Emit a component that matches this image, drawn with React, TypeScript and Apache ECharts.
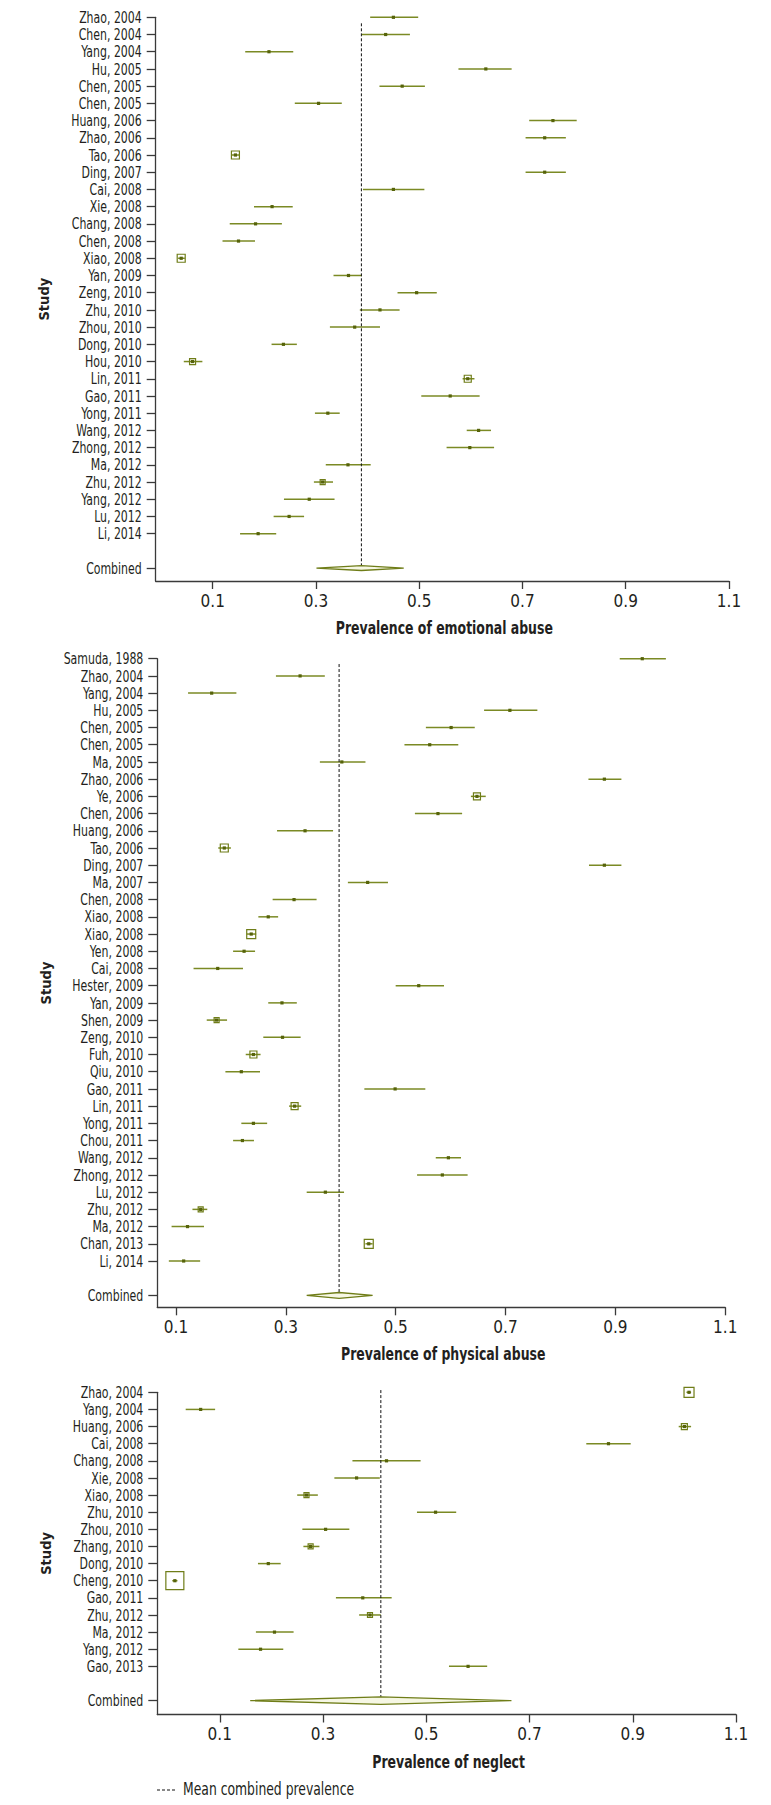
import React, { useEffect, useRef } from "react";
import * as echarts from "echarts";

// ---------------- Emotional abuse ----------------
const emoStudies = ["Zhao, 2004","Chen, 2004","Yang, 2004","Hu, 2005","Chen, 2005","Chen, 2005","Huang, 2006","Zhao, 2006","Tao, 2006","Ding, 2007","Cai, 2008","Xie, 2008","Chang, 2008","Chen, 2008","Xiao, 2008","Yan, 2009","Zeng, 2010","Zhu, 2010","Zhou, 2010","Dong, 2010","Hou, 2010","Lin, 2011","Gao, 2011","Yong, 2011","Wang, 2012","Zhong, 2012","Ma, 2012","Zhu, 2012","Yang, 2012","Lu, 2012","Li, 2014"];
const emoEst = [0.450,0.435,0.209,0.629,0.467,0.305,0.759,0.743,0.144,0.743,0.450,0.215,0.183,0.150,0.039,0.363,0.495,0.424,0.375,0.237,0.061,0.594,0.560,0.323,0.615,0.598,0.362,0.313,0.287,0.248,0.188];
const emoLo = [0.405,0.389,0.163,0.576,0.423,0.259,0.713,0.706,0.136,0.706,0.391,0.180,0.133,0.119,0.033,0.334,0.458,0.385,0.327,0.214,0.044,0.584,0.504,0.298,0.592,0.553,0.319,0.296,0.238,0.218,0.153];
const emoHi = [0.498,0.482,0.256,0.679,0.511,0.350,0.805,0.784,0.152,0.784,0.510,0.255,0.234,0.182,0.046,0.389,0.534,0.462,0.424,0.263,0.080,0.607,0.617,0.346,0.639,0.645,0.406,0.333,0.336,0.277,0.223];
const emoBox = [0,0,0,0,0,0,0,0,8,0,0,0,0,0,8,0,0,0,0,0,6,7,0,0,0,0,0,5,0,0,0];
const emoCombined = [0.388, 0.301, 0.470]; // estimate, lower, upper

// ---------------- Physical abuse ----------------
const phyStudies = ["Samuda, 1988","Zhao, 2004","Yang, 2004","Hu, 2005","Chen, 2005","Chen, 2005","Ma, 2005","Zhao, 2006","Ye, 2006","Chen, 2006","Huang, 2006","Tao, 2006","Ding, 2007","Ma, 2007","Chen, 2008","Xiao, 2008","Xiao, 2008","Yen, 2008","Cai, 2008","Hester, 2009","Yan, 2009","Shen, 2009","Zeng, 2010","Fuh, 2010","Qiu, 2010","Gao, 2011","Lin, 2011","Yong, 2011","Chou, 2011","Wang, 2012","Zhong, 2012","Lu, 2012","Zhu, 2012","Ma, 2012","Chan, 2013","Li, 2014"];
const phyEst = [0.949,0.326,0.165,0.708,0.601,0.562,0.402,0.880,0.648,0.577,0.335,0.188,0.880,0.449,0.315,0.268,0.237,0.224,0.176,0.542,0.293,0.174,0.294,0.241,0.219,0.499,0.316,0.241,0.221,0.596,0.585,0.372,0.145,0.121,0.451,0.114];
const phyLo = [0.908,0.282,0.122,0.661,0.555,0.516,0.362,0.851,0.637,0.535,0.284,0.177,0.852,0.413,0.276,0.250,0.229,0.204,0.132,0.500,0.268,0.156,0.259,0.227,0.190,0.443,0.306,0.219,0.204,0.573,0.539,0.338,0.130,0.092,0.445,0.087];
const phyHi = [0.992,0.371,0.210,0.758,0.644,0.614,0.445,0.911,0.664,0.621,0.386,0.200,0.911,0.486,0.356,0.286,0.246,0.244,0.222,0.588,0.320,0.193,0.327,0.254,0.253,0.554,0.328,0.266,0.242,0.619,0.631,0.406,0.157,0.151,0.458,0.144];
const phyBox = [0,0,0,0,0,0,0,0,7,0,0,8,0,0,0,0,9,0,0,0,0,5,0,7,0,0,7,0,0,0,0,0,5,0,9,0];
const phyCombined = [0.397, 0.338, 0.458];

// ---------------- Neglect ----------------
const negStudies = ["Zhao, 2004","Yang, 2004","Huang, 2006","Cai, 2008","Chang, 2008","Xie, 2008","Xiao, 2008","Zhu, 2010","Zhou, 2010","Zhang, 2010","Dong, 2010","Cheng, 2010","Gao, 2011","Zhu, 2012","Ma, 2012","Yang, 2012","Gao, 2013"];
const negEst = [1.009,0.063,1.000,0.853,0.423,0.365,0.268,0.518,0.305,0.276,0.194,0.013,0.377,0.391,0.206,0.179,0.581];
const negLo = [1.004,0.034,0.989,0.810,0.357,0.322,0.250,0.482,0.260,0.262,0.174,0.008,0.325,0.370,0.170,0.136,0.544];
const negHi = [1.013,0.091,1.013,0.896,0.489,0.410,0.290,0.558,0.351,0.293,0.218,0.018,0.433,0.412,0.243,0.223,0.618];
const negBox = [10,0,6,0,0,0,5,0,0,5,0,18,0,5,0,0,0];
const negCombined = [0.412, 0.159, 0.665];

const xTicks = [0.1, 0.3, 0.5, 0.7, 0.9, 1.1];
const combinedLabel = "Combined";
const yTitle = "Study";
const legendLabel = "Mean combined prevalence";

const FONT = "'DejaVu Sans Condensed', 'DejaVu Sans', sans-serif";
const TEXT = "#231f20";
const AXIS = "#3a3a3a";
const CI = "#7b8a24";
const PT = "#56630a";
const BOX = "#6f7d18";
const LABEL_SCALE = 0.76;

const panels = [
  { studies: emoStudies, est: emoEst, lo: emoLo, hi: emoHi, box: emoBox, comb: emoCombined,
    title: "Prevalence of emotional abuse", left: 155.7, top: 17.3, width: 573.3, height: 563.7,
    xMin: -0.0104, yMax: 32.75, dashStart: 0.35, half: 2.4 },
  { studies: phyStudies, est: phyEst, lo: phyLo, hi: phyHi, box: phyBox, comb: phyCombined,
    title: "Prevalence of physical abuse", left: 157.3, top: 658.7, width: 567.9, height: 648.6,
    xMin: 0.066, yMax: 37.69, dashStart: 0.31, half: 2.9 },
  { studies: negStudies, est: negEst, lo: negLo, hi: negHi, box: negBox, comb: negCombined,
    title: "Prevalence of neglect", left: 157.3, top: 1392.3, width: 578.7, height: 322.2,
    xMin: -0.021, yMax: 18.81, dashStart: -0.13, half: 3.7 },
];

function labelText(text: string, x: number, y: number) {
  return {
    type: "text", x, y, scaleX: LABEL_SCALE, scaleY: 1,
    style: { text, font: `16px ${FONT}`, fill: TEXT, align: "right", verticalAlign: "middle" },
  };
}

function buildOption() {
  const grid: any[] = [];
  const xAxis: any[] = [];
  const yAxis: any[] = [];
  const series: any[] = [];
  const graphic: any[] = [];

  panels.forEach((p, i) => {
    const n = p.studies.length;
    const combinedRow = n + 1;
    const rows = p.studies.map((_, k) => k).concat([combinedRow]);

    grid.push({ left: p.left, top: p.top, width: p.width, height: p.height, containLabel: false, outerBoundsMode: "none" });

    xAxis.push({
      gridIndex: i, type: "value", min: p.xMin, max: 1.1,
      axisLine: { show: true, onZero: false, lineStyle: { color: AXIS, width: 1.3 } },
      axisTick: { show: true, customValues: xTicks, length: 8, lineStyle: { color: AXIS, width: 1.3 } },
      axisLabel: { customValues: xTicks, formatter: (v: number) => v.toFixed(1), fontFamily: FONT, fontSize: 17, color: TEXT, margin: 11 },
      splitLine: { show: false },
    });

    yAxis.push({
      gridIndex: i, type: "value", inverse: true, min: 0, max: p.yMax,
      axisLine: { show: true, onZero: false, lineStyle: { color: AXIS, width: 1.3 } },
      axisTick: { show: true, customValues: rows, length: 9, lineStyle: { color: AXIS, width: 1.3 } },
      axisLabel: { show: false },
      splitLine: { show: false },
      name: yTitle, nameLocation: "middle", nameGap: 104, nameRotate: 90,
      nameTextStyle: { fontFamily: FONT, fontWeight: "bold", fontSize: 14.5, color: TEXT },
    });

    graphic.push({
      type: "text", x: p.left + p.width / 2 + 2, y: p.top + p.height + 47, scaleX: 0.77,
      style: { text: p.title, font: `bold 18px ${FONT}`, fill: TEXT, align: "center", verticalAlign: "middle" },
    });

    const data = p.studies.map((_, k) => [p.est[k], p.lo[k], p.hi[k], k, p.box[k]]);
    const names = p.studies;

    series.push({
      type: "custom", xAxisIndex: i, yAxisIndex: i, silent: true, clip: false,
      encode: { x: [0, 1, 2], y: 3 },
      data,
      renderItem: (params: any, api: any) => {
        const est = api.value(0), lo = api.value(1), hi = api.value(2), row = api.value(3), box = api.value(4);
        const pE = api.coord([est, row]);
        const pL = api.coord([lo, row]);
        const pH = api.coord([hi, row]);
        const axisX = params.coordSys.x;
        const children: any[] = [
          labelText(names[params.dataIndex], axisX - 14, pE[1]),
          { type: "line", shape: { x1: pL[0], y1: pL[1], x2: pH[0], y2: pH[1] }, style: { stroke: CI, lineWidth: 1.5 } },
        ];
        if (box > 0) {
          children.push({ type: "rect", shape: { x: pE[0] - box / 2, y: pE[1] - box / 2, width: box, height: box },
            style: { stroke: BOX, fill: "none", lineWidth: 1.2 } });
        }
        children.push({ type: "rect", shape: { x: pE[0] - 1.6, y: pE[1] - 1.6, width: 3.2, height: 3.2 }, style: { fill: PT } });
        return { type: "group", children };
      },
    });

    const half = p.half;
    const dashStart = p.dashStart;
    series.push({
      type: "custom", xAxisIndex: i, yAxisIndex: i, silent: true, clip: false,
      encode: { x: [0, 1, 2], y: 3 },
      data: [[p.comb[0], p.comb[1], p.comb[2], combinedRow]],
      renderItem: (params: any, api: any) => {
        const est = api.value(0), lo = api.value(1), hi = api.value(2), row = api.value(3);
        const pE = api.coord([est, row]);
        const pL = api.coord([lo, row]);
        const pH = api.coord([hi, row]);
        const pTop = api.coord([est, dashStart]);
        const axisX = params.coordSys.x;
        return {
          type: "group",
          children: [
            labelText(combinedLabel, axisX - 14, pE[1]),
            { type: "line", shape: { x1: pTop[0], y1: pTop[1], x2: pE[0], y2: pE[1] - half },
              style: { stroke: "#111", lineWidth: 1, lineDash: [3, 2] } },
            { type: "polygon", shape: { points: [[pL[0], pE[1]], [pE[0], pE[1] - half], [pH[0], pE[1]], [pE[0], pE[1] + half]] },
              style: { fill: "#f6f7e4", stroke: BOX, lineWidth: 1.3 } },
          ],
        };
      },
    });
  });

  graphic.push(
    { type: "line", shape: { x1: 157, y1: 1790, x2: 177, y2: 1790 }, style: { stroke: "#111", lineWidth: 1, lineDash: [3, 2] } },
    { type: "text", x: 183, y: 1790, scaleX: 0.81, style: { text: legendLabel, font: `17px ${FONT}`, fill: TEXT, verticalAlign: "middle", align: "left" } },
  );

  return {
    animation: false,
    backgroundColor: "#ffffff",
    grid, xAxis, yAxis, series, graphic,
  };
}

export default function App() {
  const ref = useRef<HTMLDivElement>(null);
  useEffect(() => {
    if (!ref.current) return;
    const chart = echarts.init(ref.current, null, { renderer: "svg" });
    chart.setOption(buildOption() as any);
    return () => chart.dispose();
  }, []);
  return (
    <div
      ref={ref}
      style={{ position: "absolute", left: 0, top: 0, width: 771, height: 1805, background: "#fff" }}
    />
  );
}
